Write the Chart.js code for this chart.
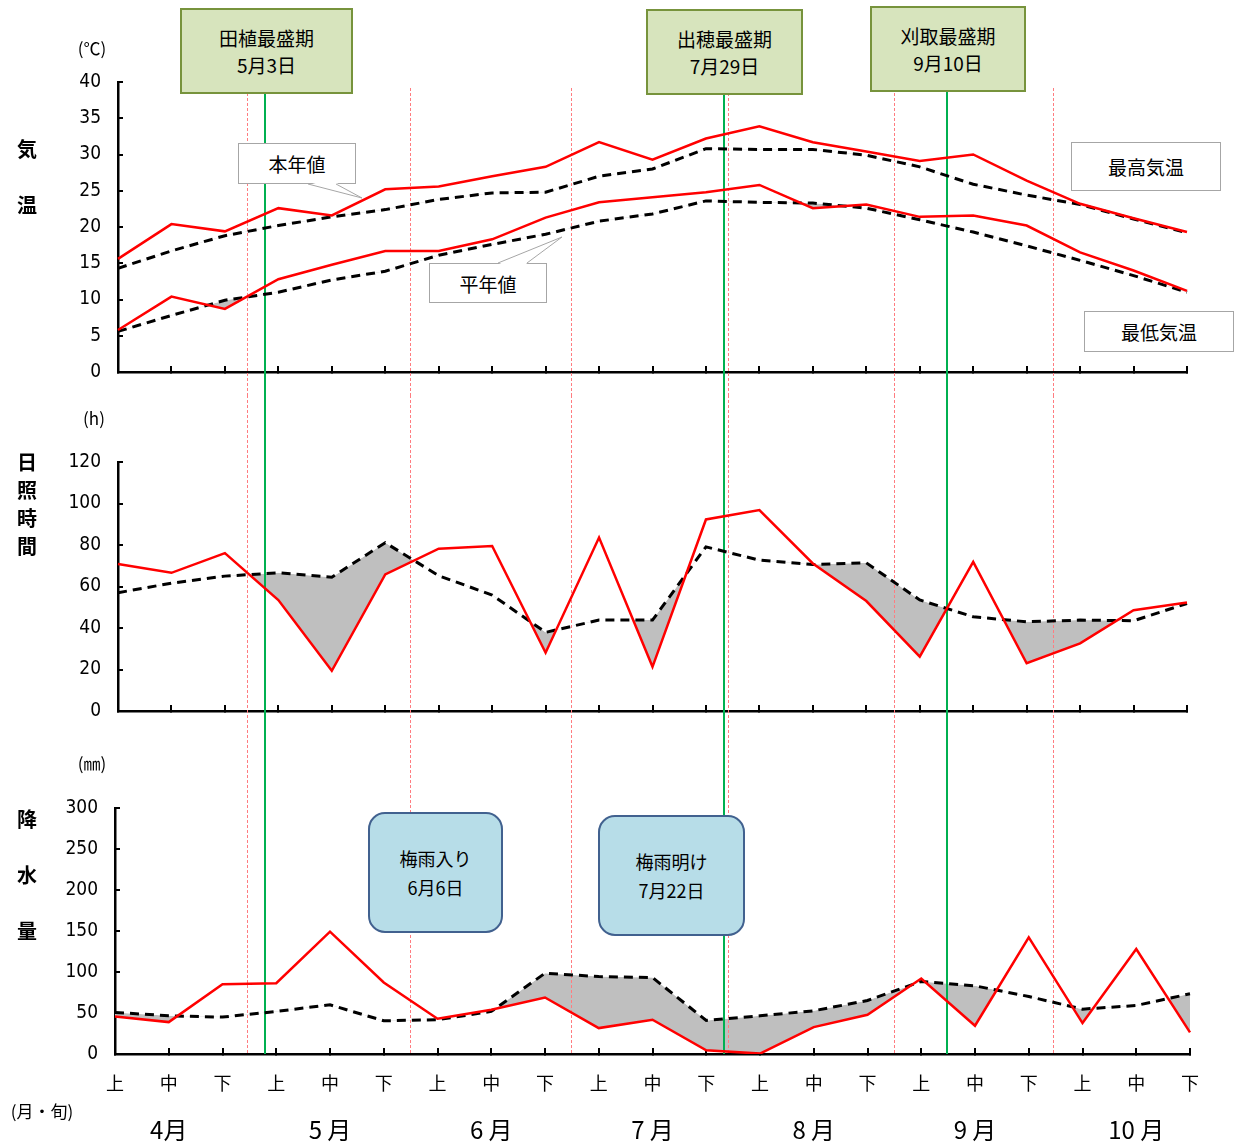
<!DOCTYPE html>
<html>
<head>
<meta charset="utf-8">
<script src="https://cdn.jsdelivr.net/npm/chart.js@4.4.0/dist/chart.umd.min.js"></script>
<style>
body { margin: 0; background: #fff; }
#wrap { position: relative; width: 1235px; height: 1146px; overflow: hidden; font-family: "Noto Sans CJK JP", sans-serif; color: #000; }
#wrap canvas { position: absolute; left: 0; }
.txt { position: absolute; white-space: nowrap; transform: translate(-50%, -50%); }
.side { font-size: 20px; font-weight: bold; }
.unit { font-size: 17px; }
.gbox, .bbox, .wbox { position: absolute; box-sizing: border-box; display: flex; flex-direction: column; justify-content: center; align-items: center; text-align: center; }
.gbox { background: #d7e4bd; border: 2.5px solid #77933c; font-size: 19px; line-height: 27px; }
.bbox { background: #b7dde8; border: 2.5px solid #41618f; border-radius: 17px; font-size: 18px; line-height: 29px; }
.wbox { background: #fff; border: 1px solid #a6a6a6; font-size: 19px; }
svg { position: absolute; left: 0; top: 0; }
</style>
</head>
<body>
<div id="wrap">
  <canvas id="tempChart" width="1235" height="395" style="top:0"></canvas>
  <canvas id="sunChart" width="1235" height="335" style="top:395px"></canvas>
  <canvas id="rainChart" width="1235" height="416" style="top:730px"></canvas>

  <div class="txt unit" style="left:92px;top:47px">(℃)</div>
  <div class="txt side" style="left:27px;top:148px">気</div>
  <div class="txt side" style="left:27px;top:204px">温</div>
  <div class="txt unit" style="left:94px;top:417px">(h)</div>
  <div class="txt side" style="left:27px;top:461px">日</div>
  <div class="txt side" style="left:27px;top:489px">照</div>
  <div class="txt side" style="left:27px;top:517px">時</div>
  <div class="txt side" style="left:27px;top:545px">間</div>
  <div class="txt unit" style="left:92px;top:762px">(㎜)</div>
  <div class="txt side" style="left:27px;top:818px">降</div>
  <div class="txt side" style="left:27px;top:874px">水</div>
  <div class="txt side" style="left:27px;top:930px">量</div>
  <div class="txt unit" style="left:42px;top:1110px">(月・旬)</div>

  <div class="gbox" style="left:180px;top:8px;width:173px;height:86px"><div>田植最盛期</div><div>5月3日</div></div>
  <div class="gbox" style="left:646px;top:9px;width:157px;height:86px"><div>出穂最盛期</div><div>7月29日</div></div>
  <div class="gbox" style="left:870px;top:6px;width:156px;height:86px"><div>刈取最盛期</div><div>9月10日</div></div>

  <div class="bbox" style="left:368px;top:812px;width:135px;height:121px"><div>梅雨入り</div><div>6月6日</div></div>
  <div class="bbox" style="left:598px;top:815px;width:147px;height:121px"><div>梅雨明け</div><div>7月22日</div></div>

  <div class="wbox" style="left:238px;top:143px;width:118px;height:41px">本年値</div>
  <div class="wbox" style="left:429px;top:263px;width:118px;height:40px">平年値</div>
  <div class="wbox" style="left:1071px;top:142px;width:150px;height:49px">最高気温</div>
  <div class="wbox" style="left:1084px;top:311px;width:150px;height:41px">最低気温</div>
  <svg width="1235" height="400">
    <polygon points="309,182 362,198 335,182" fill="#fff" stroke="none"/>
    <polyline points="308,184 362,198 336,184" fill="none" stroke="#a6a6a6" stroke-width="1"/>
    <polygon points="499,264 562,237 526,264" fill="#fff" stroke="none"/>
    <polyline points="498,263 562,237 527,263" fill="none" stroke="#a6a6a6" stroke-width="1"/>
  </svg>
</div>

<script>
// =====================
// Data (旬別: 4月上 ... 10月下)
// =====================
const decades = ['上','中','下','上','中','下','上','中','下','上','中','下','上','中','下','上','中','下','上','中','下'];
const months = ['4月', '5 月', '6 月', '7 月', '8 月', '9 月', '10 月'];

const maxTempThisYear = [15.6, 20.4, 19.4, 22.6, 21.6, 25.2, 25.6, 27.0, 28.3, 31.7, 29.3, 32.2, 33.9, 31.7, 30.4, 29.1, 30.0, 26.4, 23.2, 21.2, 19.3];
const maxTempNormal   = [14.3, 16.7, 18.8, 20.2, 21.4, 22.4, 23.8, 24.7, 24.8, 27.0, 28.0, 30.8, 30.7, 30.7, 29.9, 28.3, 25.9, 24.4, 23.1, 21.1, 19.2];
const minTempThisYear = [5.8, 10.4, 8.7, 12.8, 14.8, 16.7, 16.7, 18.3, 21.3, 23.4, 24.1, 24.8, 25.8, 22.6, 23.1, 21.4, 21.6, 20.2, 16.5, 14.0, 11.2];
const minTempNormal   = [5.6, 7.8, 9.9, 11.0, 12.7, 13.9, 16.1, 17.6, 19.0, 20.8, 21.8, 23.6, 23.4, 23.3, 22.6, 21.0, 19.3, 17.4, 15.4, 13.3, 11.0];

const sunThisYear = [70.8, 66.6, 76.1, 53.5, 19.4, 65.8, 78.2, 79.5, 28.1, 83.6, 21.3, 92.3, 96.8, 71.1, 53.0, 26.2, 71.9, 23.0, 32.6, 48.6, 52.3];
const sunNormal   = [57.0, 61.6, 65.0, 66.6, 64.5, 81.1, 65.2, 55.9, 37.9, 43.8, 43.8, 79.1, 72.7, 70.6, 71.4, 53.5, 45.4, 43.0, 43.8, 43.5, 51.8];

const rainThisYear = [45.8, 38.9, 85.1, 86.3, 149.2, 87.2, 43.0, 53.9, 68.9, 31.6, 41.8, 4.5, 0.5, 32.8, 47.8, 92.0, 34.5, 142.3, 37.7, 128.1, 26.3];
const rainNormal   = [50.7, 46.6, 45.0, 51.9, 60.0, 40.5, 41.8, 51.9, 98.5, 94.4, 93.2, 40.9, 46.6, 52.7, 65.3, 88.4, 83.1, 70.1, 54.7, 59.2, 73.4];

// guide lines, as (fractional) decade index
const redLineIdx = [2.42, 5.455, 8.48, 11.41, 14.515, 17.5];
const greenLineIdx = [2.745, 11.33, 15.51];   // 田植, 出穂, 刈取

const numFont = '"DejaVu Sans Condensed", "Noto Sans CJK JP", sans-serif';
const jpFont = '"Noto Sans CJK JP", sans-serif';

let refChart = null;

// =====================
// Plugins
// =====================
const guideLines = {
    id: 'guideLines',
    beforeDatasetsDraw(chart, args, opts) {
        const ctx = chart.ctx;
        const xs = (refChart || chart).scales.x;
        const bottom = opts.toAxis ? chart.chartArea.bottom : chart.height;
        ctx.save();
        ctx.lineWidth = 1;
        ctx.strokeStyle = '#ff7c80';
        ctx.setLineDash([3, 2]);
        redLineIdx.forEach(v => {
            const x = Math.round(xs.getPixelForValue(v)) + 0.5;
            ctx.beginPath();
            ctx.moveTo(x, opts.redTop);
            ctx.lineTo(x, bottom);
            ctx.stroke();
        });
        ctx.setLineDash([]);
        ctx.lineWidth = 2;
        ctx.strokeStyle = '#00b050';
        greenLineIdx.forEach(v => {
            const x = Math.round(xs.getPixelForValue(v));
            ctx.beginPath();
            ctx.moveTo(x, opts.greenTop);
            ctx.lineTo(x, bottom);
            ctx.stroke();
        });
        ctx.restore();
    }
};

const monthLabels = {
    id: 'monthLabels',
    afterDraw(chart) {
        const ctx = chart.ctx;
        const xs = chart.scales.x;
        ctx.save();
        ctx.font = '24px ' + jpFont;
        ctx.fillStyle = '#000';
        ctx.textAlign = 'center';
        ctx.textBaseline = 'middle';
        months.forEach((m, i) => {
            ctx.fillText(m, xs.getPixelForValue(i * 3 + 1), chart.chartArea.bottom + 76);
        });
        ctx.restore();
    }
};

// =====================
// Chart builder
// =====================
function actualSet(values) {
    return {
        data: values,
        borderColor: '#ff0000',
        borderWidth: 2.5,
        pointRadius: 0,
        tension: 0,
        fill: { target: '+1', above: 'rgba(0,0,0,0)', below: '#bfbfbf' }
    };
}

function normalSet(values) {
    return {
        data: values,
        borderColor: '#000000',
        borderWidth: 3,
        borderDash: [9, 6],
        pointRadius: 0,
        tension: 0,
        fill: false
    };
}

function makeChart(id, datasets, yMax, yStep, lay) {
    const ctx = document.getElementById(id).getContext('2d');
    return new Chart(ctx, {
        type: 'line',
        data: { labels: decades, datasets: datasets },
        plugins: lay.plugins,
        options: {
            responsive: false,
            animation: false,
            layout: { padding: { top: lay.top, right: lay.right, left: 0, bottom: 0 } },
            plugins: {
                legend: { display: false },
                tooltip: { enabled: false },
                filler: { drawTime: 'beforeDatasetsDraw' },
                guideLines: lay.guide
            },
            scales: {
                x: {
                    type: 'category',
                    offset: false,
                    ticks: {
                        display: lay.showX,
                        autoSkip: false,
                        maxRotation: 0,
                        padding: 24,
                        color: '#000',
                        font: { family: jpFont, size: 18 }
                    },
                    grid: { drawOnChartArea: false, tickLength: -6, color: '#000', lineWidth: 2 },
                    border: { color: '#000', width: 2.5 },
                    afterFit(scale) { scale.height = lay.xHeight; }
                },
                y: {
                    min: 0,
                    max: yMax,
                    ticks: { stepSize: yStep, padding: 22, color: '#000', font: { family: numFont, size: 19 } },
                    grid: { drawOnChartArea: false, tickLength: -5, color: '#000', lineWidth: 2 },
                    border: { color: '#000', width: 2.5 },
                    afterFit(scale) {
                        scale.width = lay.yWidth;
                        scale.paddingTop = 0;
                        scale.paddingBottom = 0;
                    }
                }
            }
        }
    });
}

// temperature
const tempChart = makeChart('tempChart', [
    actualSet(maxTempThisYear), normalSet(maxTempNormal),
    actualSet(minTempThisYear), normalSet(minTempNormal)
], 40, 5, {
    top: 82, right: 48, xHeight: 23, yWidth: 118, showX: false,
    plugins: [guideLines],
    guide: { redTop: 88, greenTop: 82, toAxis: false }
});
refChart = tempChart;
tempChart.update();

// sunshine
makeChart('sunChart', [actualSet(sunThisYear), normalSet(sunNormal)], 120, 20, {
    top: 67, right: 48, xHeight: 19, yWidth: 118, showX: false,
    plugins: [guideLines],
    guide: { redTop: 0, greenTop: 0, toAxis: false }
});

// precipitation
makeChart('rainChart', [actualSet(rainThisYear), normalSet(rainNormal)], 300, 50, {
    top: 78, right: 45, xHeight: 92, yWidth: 115, showX: true,
    plugins: [guideLines, monthLabels],
    guide: { redTop: 0, greenTop: 0, toAxis: true }
});
</script>
</body>
</html>
